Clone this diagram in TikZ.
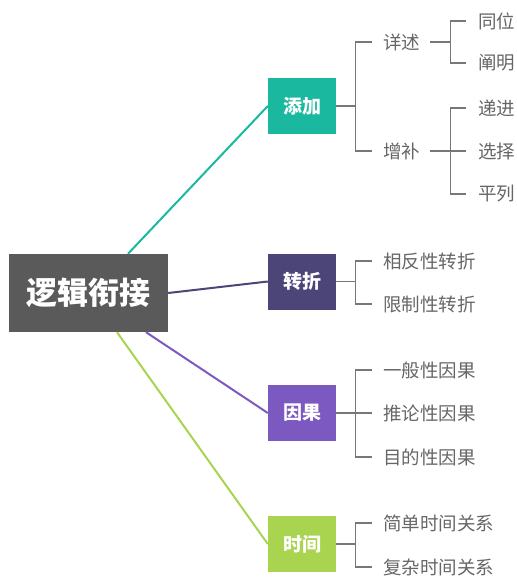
\documentclass[tikz,border=0pt]{standalone}
\usepackage{fontspec}
\setmainfont{Noto Sans CJK SC}
\usetikzlibrary{positioning}
\definecolor{rootgray}{HTML}{5A5A5A}
\definecolor{addteal}{HTML}{1BB8A0}
\definecolor{turnpurple}{HTML}{4B4578}
\definecolor{causepurple}{HTML}{7B59C0}
\definecolor{timegreen}{HTML}{A8D450}
\definecolor{leafgray}{HTML}{666666}
\definecolor{branchgray}{HTML}{777777}

\begin{document}
\begin{tikzpicture}[x=1pt,y=-1pt,
		rootbox/.style={fill=rootgray, text=white, font=\fontsize{31}{31}\selectfont\bfseries,
			minimum width=159pt, minimum height=78pt, inner sep=0pt},
		topic/.style={text=white, font=\fontsize{19}{19}\selectfont\bfseries,
			minimum width=68pt, minimum height=56pt, inner sep=0pt},
		leaf/.style={text=leafgray, font=\fontsize{18.5}{18.5}\selectfont, anchor=west, inner sep=0pt},
		branch/.style={draw=branchgray, line width=1.3pt},
		link/.style={line width=2pt}]
		\useasboundingbox (0,0) rectangle (516,577);

		% Define nodes
		\node[rootbox] (LC) at (88.5,293) {逻辑衔接};
		\node[topic, fill=addteal] (ADD) at (302,106) {添加};
		\node[topic, fill=turnpurple] (TURN) at (302,281.5) {转折};
		\node[topic, fill=causepurple] (CAUSE) at (302,413) {因果};
		\node[topic, fill=timegreen] (TIME) at (302,544) {时间};

		\node[leaf] (XS) at (383,42) {详述};
		\node[leaf] (ZB) at (383,151) {增补};
		\node[leaf] (TW) at (478,21) {同位};
		\node[leaf] (CM) at (478,63) {阐明};
		\node[leaf] (DJ) at (478,108) {递进};
		\node[leaf] (XZ) at (478,151) {选择};
		\node[leaf] (PL) at (478,194) {平列};

		\node[leaf] (XF) at (383,261) {相反性转折};
		\node[leaf] (XZZ) at (383,304) {限制性转折};

		\node[leaf] (YB) at (383,370) {一般性因果};
		\node[leaf] (TL) at (383,413) {推论性因果};
		\node[leaf] (MD) at (383,457) {目的性因果};

		\node[leaf] (JD) at (383,523) {简单时间关系};
		\node[leaf] (FZ) at (383,567) {复杂时间关系};

		% Connect the nodes
		\draw[link, addteal] ([xshift=39.5pt]LC.north) -- (ADD.west);
		\draw[link, turnpurple] (LC.east) -- (TURN.west);
		\draw[link, causepurple] ([xshift=57.5pt]LC.south) -- (CAUSE.west);
		\draw[link, timegreen] ([xshift=28.5pt]LC.south) -- (TIME.west);

		\foreach \from/\to in {ADD/XS,ADD/ZB,TURN/XF,TURN/XZZ,CAUSE/YB,CAUSE/TL,CAUSE/MD,TIME/JD,TIME/FZ}
			\draw[branch] (\from.east) -- ++(19,0) |- ([xshift=-11pt]\to.west);
		\foreach \from/\to in {XS/TW,XS/CM,ZB/DJ,ZB/XZ,ZB/PL}
			\draw[branch] ([xshift=10pt]\from.east) -- ++(20,0) |- ([xshift=-12pt]\to.west);
	\end{tikzpicture}
\end{document}
